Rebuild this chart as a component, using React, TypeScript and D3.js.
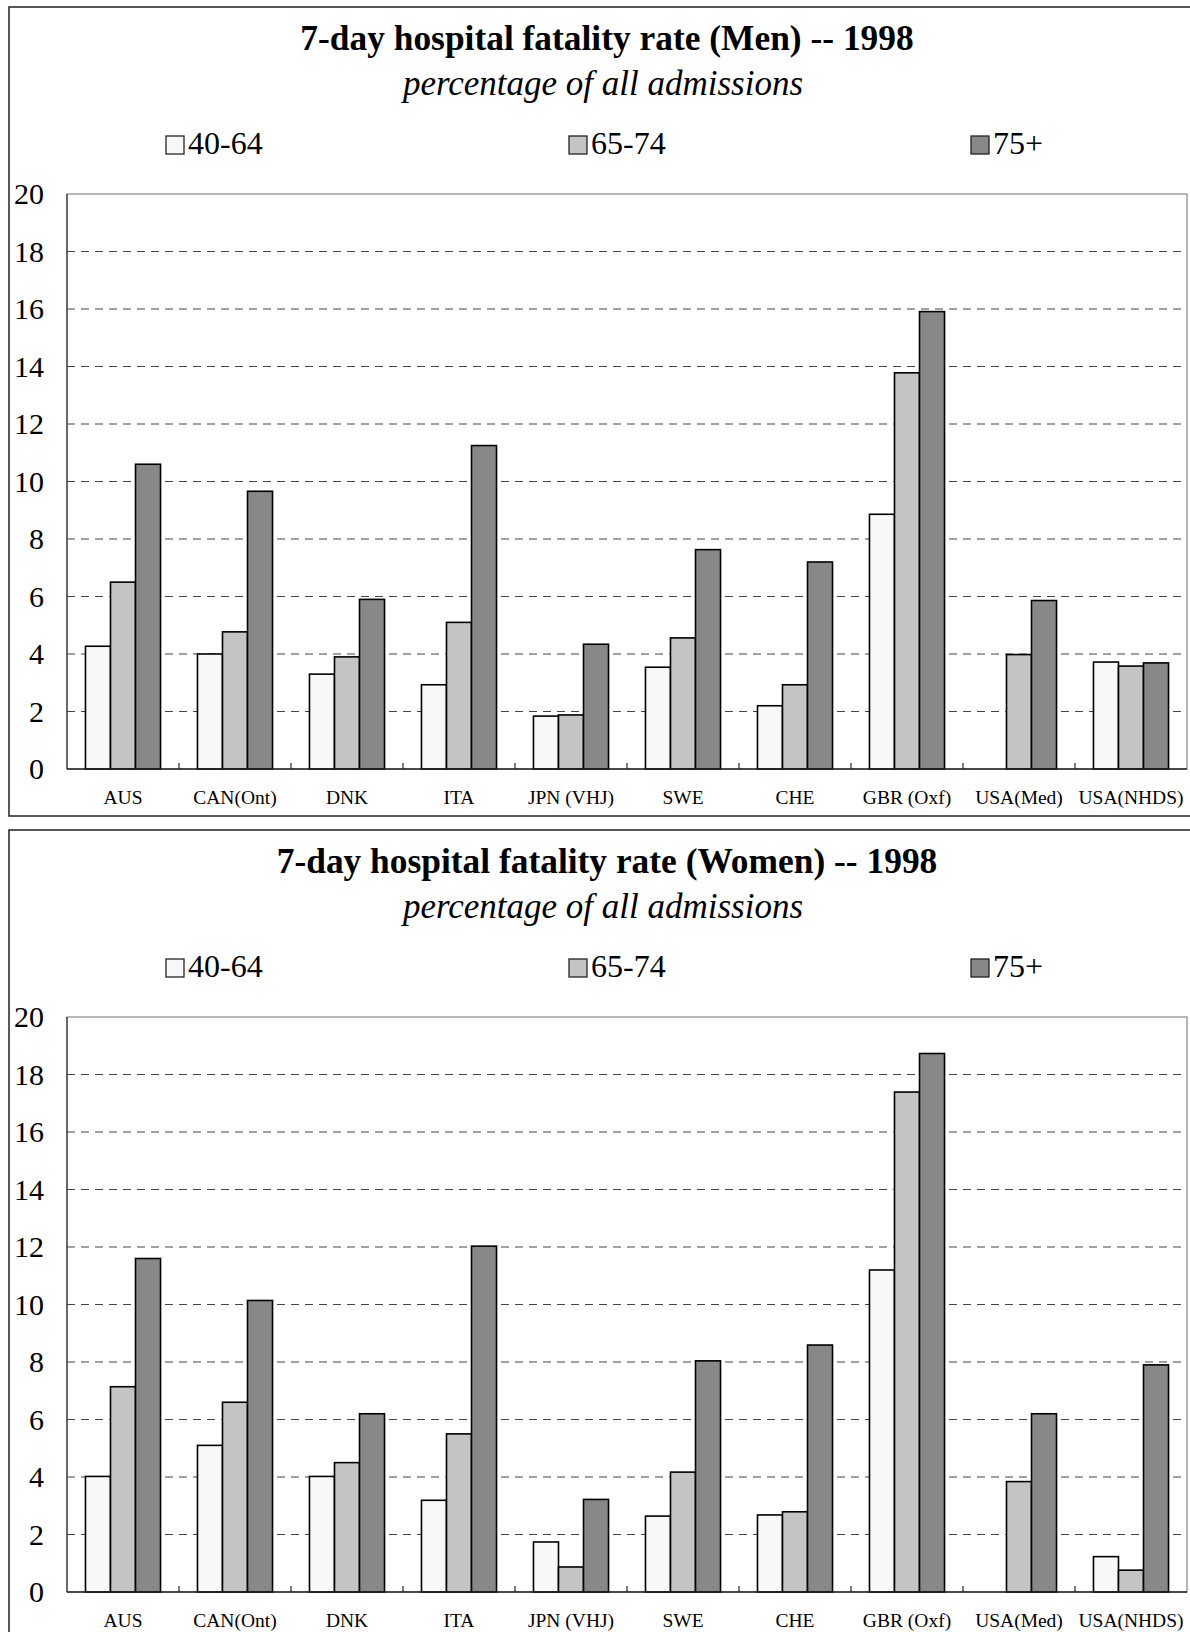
import { scaleBand, scaleLinear, range } from 'd3'

const categories = ['AUS', 'CAN(Ont)', 'DNK', 'ITA', 'JPN (VHJ)', 'SWE', 'CHE', 'GBR (Oxf)', 'USA(Med)', 'USA(NHDS)']
const ageGroups = ['40-64', '65-74', '75+']
const yTicks = [0, 2, 4, 6, 8, 10, 12, 14, 16, 18, 20]

// men, by age group
const men4064 = [4.27, 4.0, 3.3, 2.93, 1.84, 3.54, 2.2, 8.86, null, 3.72]
const men6574 = [6.5, 4.77, 3.9, 5.1, 1.88, 4.56, 2.93, 13.78, 3.98, 3.58]
const men75 = [10.6, 9.66, 5.9, 11.25, 4.34, 7.63, 7.2, 15.91, 5.86, 3.69]

// women, by age group
const women4064 = [4.02, 5.1, 4.02, 3.19, 1.74, 2.64, 2.68, 11.2, null, 1.23]
const women6574 = [7.14, 6.6, 4.5, 5.5, 0.87, 4.17, 2.79, 17.39, 3.84, 0.76]
const women75 = [11.6, 10.14, 6.2, 12.03, 3.22, 8.04, 8.59, 18.73, 6.2, 7.9]

const fills = ['#f8f8f8', '#c4c4c4', '#888888']
const font = '"Liberation Serif", "Times New Roman", serif'

const plot = { left: 67, right: 1187, top: 187, bottom: 762 }

interface ChartProps {
  title: string
  series: (number | null)[][]
  top: number
}

const Chart = ({ title, series, top }: ChartProps) => {
  const x0 = scaleBand().domain(categories).range([plot.left, plot.right]).padding(0)
  const bw = x0.bandwidth()
  const groupW = bw * 0.67
  const x1 = scaleBand().domain(ageGroups).range([(bw - groupW) / 2, (bw + groupW) / 2]).padding(0)
  const y = scaleLinear().domain([0, 20]).range([plot.bottom, plot.top])
  const legendX = [166, 569, 971]

  return (
    <g transform={`translate(0, ${top})`}>
      <rect x={9} y={0} width={1200} height={809} fill='#fff' stroke='#222' strokeWidth={1.5} />
      <text x={607} y={43} textAnchor='middle' fontFamily={font} fontWeight='bold' fontSize={35.4}>{title}</text>
      <text x={603} y={88} textAnchor='middle' fontFamily={font} fontStyle='italic' fontSize={35}>percentage of all admissions</text>

      {ageGroups.map((g, i) => (
        <g key={g}>
          <rect x={legendX[i]} y={129} width={18} height={18} fill={fills[i]} stroke='#222' strokeWidth={1.3} />
          <text x={legendX[i] + 22} y={147} fontFamily={font} fontSize={32}>{g}</text>
        </g>
      ))}

      <rect x={plot.left} y={plot.top} width={plot.right - plot.left} height={plot.bottom - plot.top} fill='none' stroke='#888' strokeWidth={1.2} />
      {yTicks.slice(1, -1).map(t => (
        <line key={t} x1={plot.left} x2={plot.right} y1={y(t)} y2={y(t)} stroke='#444' strokeWidth={1} strokeDasharray='8 6' />
      ))}
      {yTicks.map(t => (
        <text key={t} x={44} y={y(t) + 10} textAnchor='end' fontFamily={font} fontSize={30}>{t}</text>
      ))}

      {categories.map((c, ci) => (
        <g key={c} transform={`translate(${x0(c)}, 0)`}>
          {series.map((s, si) => {
            const v = s[ci]
            if (v == null) return null
            return (
              <rect key={si} x={x1(ageGroups[si])} y={y(v)} width={x1.bandwidth()} height={y(0) - y(v)}
                fill={fills[si]} stroke='#000' strokeWidth={1.6} />
            )
          })}
          <text x={bw / 2} y={797} textAnchor='middle' fontFamily={font} fontSize={19.5}>{c}</text>
        </g>
      ))}

      {range(1, categories.length).map(i => (
        <line key={i} x1={plot.left + i * bw} x2={plot.left + i * bw} y1={plot.bottom} y2={plot.bottom - 6} stroke='#222' strokeWidth={1.2} />
      ))}
      <line x1={plot.left} x2={plot.left} y1={plot.top} y2={plot.bottom} stroke='#333' strokeWidth={1.2} />
      <line x1={plot.left} x2={plot.right} y1={plot.bottom} y2={plot.bottom} stroke='#222' strokeWidth={1.5} />
    </g>
  )
}

export default function App() {
  return (
    <svg width={1190} height={1632} style={{ position: 'absolute', left: 0, top: 0, background: '#fff' }}>
      <Chart title='7-day hospital fatality rate (Men) -- 1998' series={[men4064, men6574, men75]} top={7} />
      <Chart title='7-day hospital fatality rate (Women) -- 1998' series={[women4064, women6574, women75]} top={830} />
    </svg>
  )
}
